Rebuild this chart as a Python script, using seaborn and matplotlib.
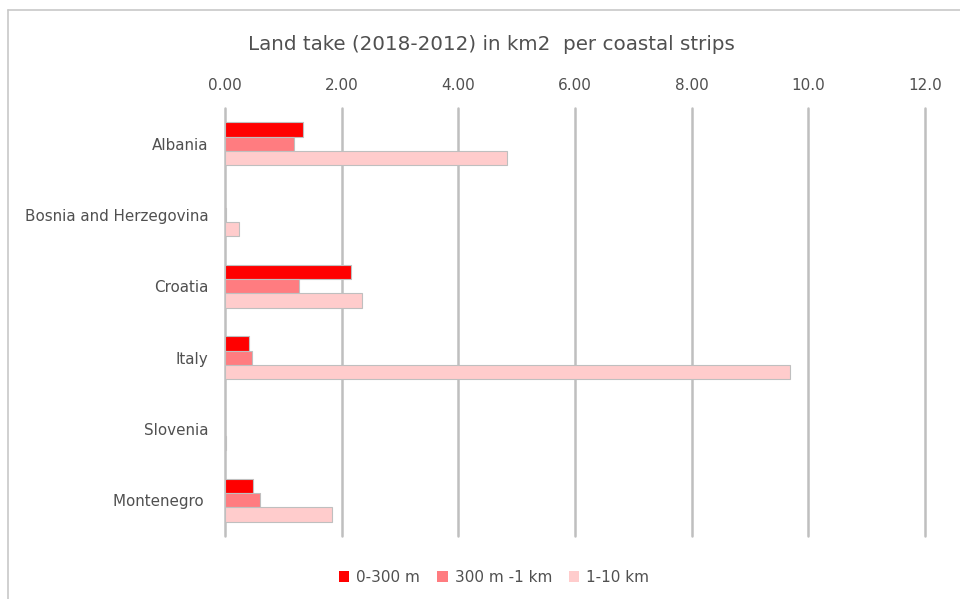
import matplotlib
matplotlib.use("Agg")
import matplotlib.pyplot as plt
import seaborn as sns
import pandas as pd
from matplotlib.lines import Line2D

countries = ["Albania", "Bosnia and Herzegovina", "Croatia", "Italy", "Slovenia", "Montenegro "]
strips = ["0-300 m", "300 m -1 km", "1-10 km"]
v_0_300m = [1.33, 0.00, 2.16, 0.41, 0.00, 0.48]
v_300m_1km = [1.19, 0.02, 1.27, 0.46, 0.00, 0.60]
v_1_10km = [4.84, 0.24, 2.35, 9.68, 0.01, 1.84]
xticks = [0, 2, 4, 6, 8, 10, 12]
xtick_labels = ["0.00", "2.00", "4.00", "6.00", "8.00", "10.0", "12.0"]
colors = ["#FF0000", "#FF7C80", "#FFCCCC"]

rows = []
for series, vals in zip(strips, [v_0_300m, v_300m_1km, v_1_10km]):
    for c, v in zip(countries, vals):
        rows.append({"country": c, "strip": series, "value": v})
df = pd.DataFrame(rows)

sns.set_theme(style="white")
plt.rcParams["font.family"] = ["DejaVu Sans"]
text_color = "#505050"
grid_color = "#BFBFBF"

fig = plt.figure(figsize=(9.6, 5.99), dpi=100)
ax = fig.add_axes([225/960, 1-536/599, 700/960, 428/599])

sns.barplot(data=df, y="country", x="value", hue="strip", order=countries,
            hue_order=strips, palette=colors, orient="h", width=0.6,
            edgecolor="#BFBFBF", linewidth=0.8, ax=ax, legend=True, saturation=1)

ax.set_xlim(0, 12)
ax.set_ylim(5.5, -0.5)
ax.xaxis.tick_top()
ax.set_xticks(xticks)
ax.set_xticklabels(xtick_labels)
ax.set_xlabel("")
ax.set_ylabel("")
for x in xticks:
    ax.axvline(x, color=grid_color, lw=1.8, zorder=0, clip_on=False)
for s in ax.spines.values():
    s.set_visible(False)
ax.tick_params(axis="x", length=0, pad=11, labelsize=11, labelcolor=text_color)
ax.tick_params(axis="y", length=0, pad=12, labelsize=10.9, labelcolor=text_color)

leg = ax.legend(loc="center", bbox_to_anchor=(494/960, 1-577/599), bbox_transform=fig.transFigure,
                ncol=3, frameon=False, handlelength=0.7, handleheight=0.7,
                handletextpad=0.45, columnspacing=1.1, fontsize=11)
for t in leg.get_texts():
    t.set_color(text_color)
for h in leg.legend_handles:
    h.set_edgecolor("none")

fig.text(491/960, 1-45/599, "Land take (2018-2012) in km2  per coastal strips",
         ha="center", va="center", fontsize=14.3, color=text_color)

fig.add_artist(Line2D([8/960, 8/960], [0, 1-10/599], transform=fig.transFigure, color="#C8C8C8", lw=1.2))
fig.add_artist(Line2D([8/960, 1], [1-10/599, 1-10/599], transform=fig.transFigure, color="#C8C8C8", lw=1.2))

fig.savefig("out.png", dpi=100)
